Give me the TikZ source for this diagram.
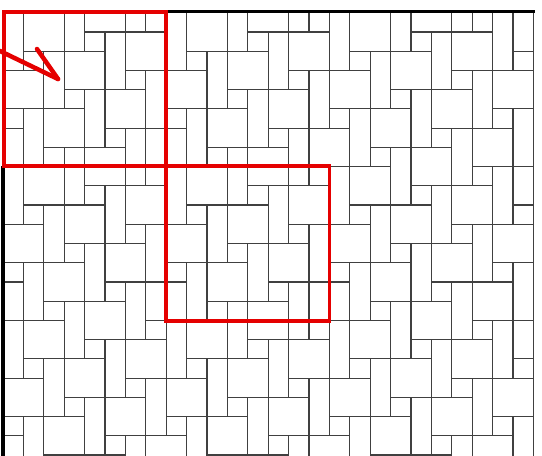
\documentclass[tikz,border=0pt]{standalone}
\begin{document}
\begin{tikzpicture}[x=1pt,y=-1pt,
  tile/.style={draw=black!75,line width=1.15pt},
  redbox/.style={draw=red!90!black,line width=3.8pt},
  border/.style={draw=black,line width=3.4pt},
  redpen/.style={draw=red!90!black,line width=4.5pt,line cap=round}]
\useasboundingbox (0,0) rectangle (542,456);
\fill[white] (0,0) rectangle (542,456);
\begin{scope}
  \clip (3,12.7) rectangle (533.4,456);
  \begin{scope}[xshift=3pt,yshift=-12.7pt,x=20.4pt,y=-19.23pt]
    \foreach \r in {-2,...,23}{
      \pgfmathtruncatemacro\c{Mod(5*\r,8)}
      \foreach \k in {-1,...,3}{
        \pgfmathtruncatemacro\b{\c+8*\k}
        \draw[tile] (\b,\r) rectangle ++(1,3);
        \draw[tile] (\b+1,\r) rectangle ++(2,2);
        \draw[tile] (\b-1,\r) rectangle ++(1,1);
      }
    }
  \end{scope}
\end{scope}
\draw[tile] (533.4,12.7) -- (533.4,456);
% thick black borders
\draw[border] (166,11.5) -- (535,11.5);
\draw[border] (3,166) -- (3,456);
% red frames
\draw[redbox] (3.9,11.9) rectangle (166.2,166.2);
\draw[redbox] (166.2,166.2) rectangle (329.4,320.7);
% red hand-drawn arrow
\coordinate (tip) at (58,79);
\draw[redpen] (0,51) -- (tip);
\draw[redpen] (37,49) -- (tip);
\end{tikzpicture}
\end{document}
